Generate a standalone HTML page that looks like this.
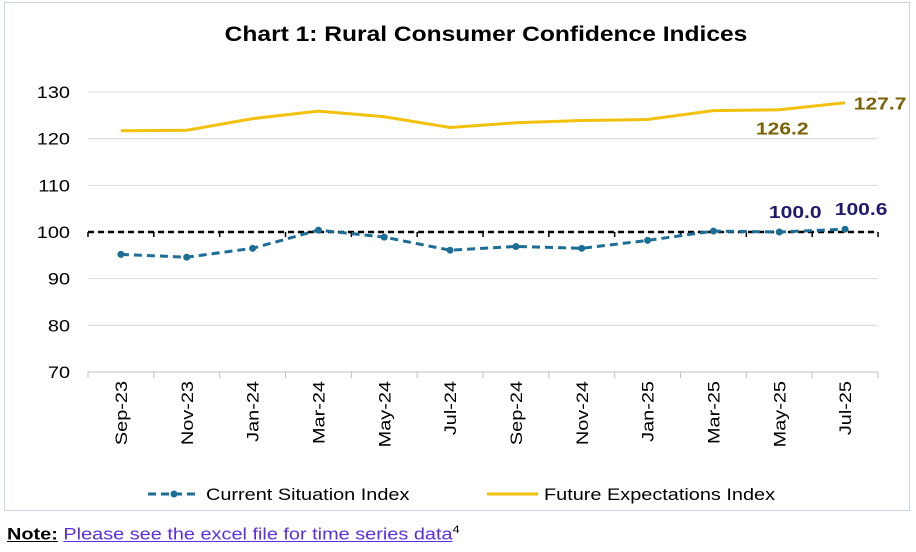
<!DOCTYPE html>
<html><head><meta charset="utf-8"><style>
body{margin:0;background:#fff;font-family:"Liberation Sans",Arial,sans-serif;}
#wrap{position:relative;width:916px;height:552px;}
#frame{position:absolute;left:4px;top:2px;width:906px;height:509px;border:1px solid #c9d6e3;box-sizing:border-box;}
#note{position:absolute;left:7px;top:524px;font-size:17px;transform:scaleX(1.17);transform-origin:0 0;white-space:nowrap;}
#note b{text-decoration:underline;}
#note a{color:#5b2ee0;text-decoration:underline;}
</style></head><body>
<div id="wrap">
<div id="frame"></div>
<svg id="chart" width="916" height="520" style="position:absolute;left:0;top:0"></svg>
<div id="note"><b>Note:</b> <a>Please see the excel file for time series data</a><sup style="font-size:11px">4</sup></div>
</div>
<script>
const categories=["Sep-23","Nov-23","Jan-24","Mar-24","May-24","Jul-24","Sep-24","Nov-24","Jan-25","Mar-25","May-25","Jul-25"];
const currentValues=[95.2,94.6,96.5,100.4,98.9,96.1,96.9,96.5,98.2,100.2,100.0,100.6];
const futureValues=[121.7,121.8,124.3,125.9,124.7,122.4,123.4,123.9,124.1,126.0,126.2,127.7];
const yTicks=[70,80,90,100,110,120,130];
const NS="http://www.w3.org/2000/svg";
const svg=document.getElementById('chart');
const x0=88,x1=878,yTop=92,yBot=372,yMin=70,yMax=130;
const SX=1.17;
const step=(x1-x0)/categories.length;
function xs(i){return x0+step*(i+0.5);}
function ys(v){return yBot-(v-yMin)/(yMax-yMin)*(yBot-yTop);}
function mk(tag,attrs,parent){const e=document.createElementNS(NS,tag);for(const k in attrs)e.setAttribute(k,attrs[k]);(parent||svg).appendChild(e);return e;}
function txt(s,x,y,attrs,rot){const a=Object.assign({x:0,y:0,fill:'#000'},attrs);a.transform=`translate(${x},${y})`+(rot?` rotate(${rot})`:'')+` scale(${SX},1)`;const e=mk('text',a);e.textContent=s;return e;}
let t=txt("Chart 1: Rural Consumer Confidence Indices",486,41,{'text-anchor':'middle','font-size':21,'font-weight':'bold'});


yTicks.forEach(v=>{
  const g=mk('line',{x1:x0,x2:x1,y1:ys(v),y2:ys(v),stroke:'#d9d9d9','stroke-width':1});
  
  
  const l=txt(String(v),70,ys(v)+6,{'text-anchor':'end','font-size':17});
  
  
});
const ax=mk('line',{x1:x0,x2:x1,y1:yBot,y2:yBot,stroke:'#bfbfbf'});


for(let i=0;i<=categories.length;i++){
  const tk=mk('line',{x1:x0+step*i,x2:x0+step*i,y1:yBot,y2:yBot+6,stroke:'#bfbfbf'});
  
  
  const tk2=mk('line',{x1:x0+step*i,x2:x0+step*i,y1:ys(100),y2:ys(100)+5,stroke:'#000','stroke-width':1.5});
  
  
}
categories.forEach((c,i)=>{
  const l=txt(c,xs(i)+6,yBot+9,{'text-anchor':'end','font-size':17},-90);
  
  
});
const ref=mk('line',{x1:x0,x2:x1,y1:ys(100),y2:ys(100),stroke:'#000','stroke-width':2.5,'stroke-dasharray':'6,4'});


const fp=mk('polyline',{points:futureValues.map((v,i)=>xs(i)+','+ys(v)).join(' '),fill:'none',stroke:'#f2c10e','stroke-width':3});


const cp=mk('polyline',{points:currentValues.map((v,i)=>xs(i)+','+ys(v)).join(' '),fill:'none',stroke:'#1c6e96','stroke-width':3,'stroke-dasharray':'8,5'});


currentValues.forEach((v,i)=>{
  const c=mk('circle',{cx:xs(i),cy:ys(v),r:3.5,fill:'#1c6e96'});
  
  
});
function lab(s,x,y,col,name){const e=txt(s,x,y,{'text-anchor':'middle','font-size':18,'font-weight':'bold',fill:col});}
const n=categories.length;
lab(futureValues[n-1].toFixed(1),xs(n-1)+35,ys(futureValues[n-1])+7,'#7a6206','label-future-last');
lab(futureValues[n-2].toFixed(1),xs(n-2)+3,ys(futureValues[n-2])+25,'#7a6206','label-future-prev');
lab(currentValues[n-2].toFixed(1),xs(n-2)+16,ys(currentValues[n-2])-14,'#1f1a6b','label-current-prev');
lab(currentValues[n-1].toFixed(1),xs(n-1)+16,ys(currentValues[n-1])-14,'#1f1a6b','label-current-last');
const lg1=mk('line',{x1:148,x2:200,y1:494,y2:494,stroke:'#1c6e96','stroke-width':3,'stroke-dasharray':'8,5'});


const lgc=mk('circle',{cx:174,cy:494,r:3.5,fill:'#1c6e96'});


let lt=txt("Current Situation Index",206,500,{'font-size':17});


const lg2=mk('line',{x1:487,x2:538,y1:494,y2:494,stroke:'#f2c10e','stroke-width':3});


lt=txt("Future Expectations Index",544,500,{'font-size':17});


</script>
</body></html>
